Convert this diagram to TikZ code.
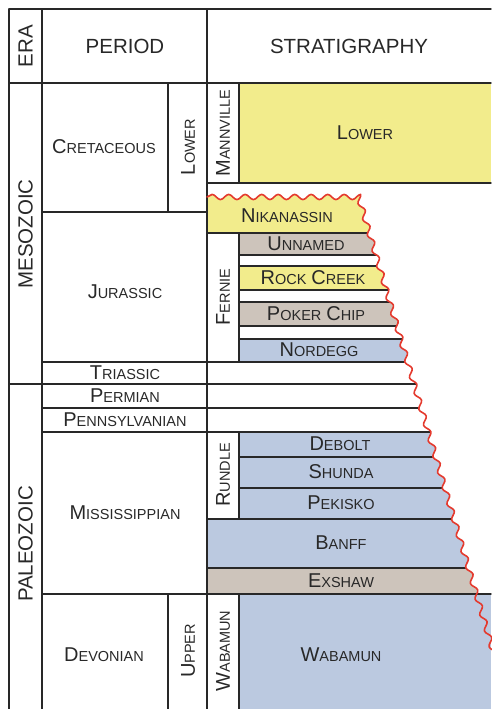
\documentclass[tikz,border=0pt]{standalone}
\usepackage{fontspec}
\setmainfont{Liberation Sans}
\usetikzlibrary{decorations.pathmorphing}

\definecolor{sandyellow}{RGB}{242,236,140}
\definecolor{shalegrey}{RGB}{205,196,187}
\definecolor{limeblue}{RGB}{187,201,224}
\definecolor{unconf}{RGB}{228,58,46}
\definecolor{ink}{RGB}{40,40,40}

% fake small caps: big first letter, smaller rest
\newcommand{\fsc}[2]{{\fontsize{20}{22}\selectfont #1}{\fontsize{14.5}{16}\selectfont #2}}
\newcommand{\hdr}{\fontsize{20.5}{22}\selectfont}

\begin{document}
\begin{tikzpicture}[x=1pt, y=-1pt, line cap=round, line join=round,
  grid/.style={draw=ink, line width=1.4pt},
  lbl/.style={text=ink, inner sep=0pt},
  vlbl/.style={lbl, rotate=90},
  wave/.style={decorate, decoration={snake, segment length=16.5pt, amplitude=2.6pt}}]

\useasboundingbox (0,0) rectangle (491,709);

% ---------- Fills outside the unconformity ----------
\fill[sandyellow] (239,83) rectangle (491,183);   % Mannville lower
\fill[limeblue] (239,594) rectangle (491,709);    % Wabamun

% ---------- Units cut by the unconformity ----------
\begin{scope}
  \clip decorate[wave]{(207,197) -- (360,197) -- (500,670)} -- (500,720) -- (0,720) -- (0,197) -- cycle;

  \fill[sandyellow] (207,180) rectangle (500,233);  % Nikanassin
  \fill[shalegrey] (239,233) rectangle (500,255);   % Unnamed
  \fill[sandyellow] (239,266) rectangle (500,290);  % Rock Creek
  \fill[shalegrey] (239,302) rectangle (500,326);   % Poker Chip
  \fill[limeblue] (239,339) rectangle (500,362);    % Nordegg
  \fill[limeblue] (239,432) rectangle (500,519);    % Rundle
  \fill[limeblue] (207,519) rectangle (500,568);    % Banff
  \fill[shalegrey] (207,568) rectangle (500,594);   % Exshaw

  \foreach \y in {255,266,290,302,326,339,457,488}
    \draw[grid] (239,\y) -- (500,\y);
  \foreach \y in {233,519,568}
    \draw[grid] (207,\y) -- (500,\y);
  \foreach \y in {362,408,432}
    \draw[grid] (42,\y) -- (500,\y);
  \draw[grid] (9,384) -- (500,384);
\end{scope}

% ---------- Grid ----------
\draw[grid] (9,9) -- (491,9);
\draw[grid] (9,83) -- (491,83);
\draw[grid] (207,183) -- (491,183);
\draw[grid] (42,212) -- (207,212);
\draw[grid] (42,594) -- (491,594);

\draw[grid] (9,9) -- (9,709);
\draw[grid] (42,9) -- (42,709);
\draw[grid] (207,9) -- (207,709);
\draw[grid] (168,83) -- (168,212);
\draw[grid] (168,594) -- (168,709);
\draw[grid] (239,83) -- (239,183);
\draw[grid] (239,233) -- (239,362);
\draw[grid] (239,432) -- (239,519);
\draw[grid] (239,594) -- (239,709);

% ---------- Unconformity ----------
\draw[unconf, line width=1.6pt, wave] (207,197) -- (360,197) -- (500,670);

% ---------- Header ----------
\node[vlbl] (era) at (25.5,46) {\hdr ERA};
\node[lbl] (period) at (125,46) {\hdr PERIOD};
\node[lbl] (strat) at (349,46) {\hdr STRATIGRAPHY};

% ---------- Eras ----------
\node[vlbl] (mesozoic) at (25.5,234) {\hdr MESOZOIC};
\node[vlbl] (paleozoic) at (25.5,544) {\hdr PALEOZOIC};

% ---------- Periods ----------
\node[lbl] (cretaceous) at (104,147) {\fsc{C}{RETACEOUS}};
\node[vlbl] (lowerK) at (188,147) {\fsc{L}{OWER}};
\node[lbl] (jurassic) at (125,292) {\fsc{J}{URASSIC}};
\node[lbl] (triassic) at (125,373) {\fsc{T}{RIASSIC}};
\node[lbl] (permian) at (125,396) {\fsc{P}{ERMIAN}};
\node[lbl] (pennsylvanian) at (125,420) {\fsc{P}{ENNSYLVANIAN}};
\node[lbl] (mississippian) at (125,513) {\fsc{M}{ISSISSIPPIAN}};
\node[lbl] (devonian) at (104,655) {\fsc{D}{EVONIAN}};
\node[vlbl] (upperD) at (188,651) {\fsc{U}{PPER}};

% ---------- Stratigraphy ----------
\node[vlbl] (mannville) at (223,133) {\fsc{M}{ANNVILLE}};
\node[lbl] (lowerMnv) at (365,133) {\fsc{L}{OWER}};
\node[lbl] (nikanassin) at (287,216) {\fsc{N}{IKANASSIN}};
\node[vlbl] (fernie) at (223,297) {\fsc{F}{ERNIE}};
\node[lbl] (unnamed) at (306,244) {\fsc{U}{NNAMED}};
\node[lbl] (rockcreek) at (313,278) {\fsc{R}{OCK}\hspace{5pt}\fsc{C}{REEK}};
\node[lbl] (pokerchip) at (316,314) {\fsc{P}{OKER}\hspace{5pt}\fsc{C}{HIP}};
\node[lbl] (nordegg) at (319,350) {\fsc{N}{ORDEGG}};
\node[vlbl] (rundle) at (223,475) {\fsc{R}{UNDLE}};
\node[lbl] (debolt) at (340,444) {\fsc{D}{EBOLT}};
\node[lbl] (shunda) at (341,472) {\fsc{S}{HUNDA}};
\node[lbl] (pekisko) at (341,503) {\fsc{P}{EKISKO}};
\node[lbl] (banff) at (341,543) {\fsc{B}{ANFF}};
\node[lbl] (exshaw) at (341,581) {\fsc{E}{XSHAW}};
\node[vlbl] (wabamunGp) at (223,651) {\fsc{W}{ABAMUN}};
\node[lbl] (wabamun) at (341,655) {\fsc{W}{ABAMUN}};

\end{tikzpicture}
\end{document}
